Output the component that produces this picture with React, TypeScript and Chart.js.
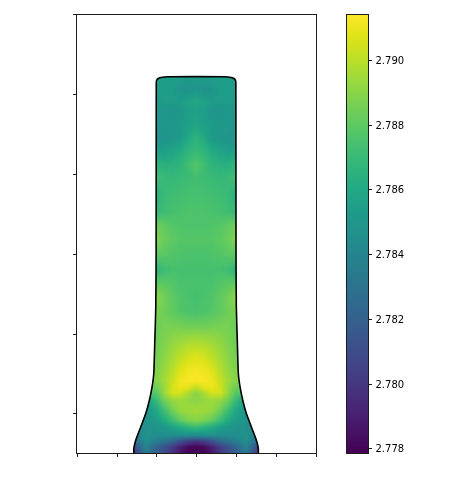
import React, { useEffect, useRef } from "react";
import { Chart, registerables } from "chart.js";

Chart.register(...registerables);

const outlineX = [-0.79, -0.79, -0.765, -0.702, -0.639, -0.594, -0.56, -0.539, -0.526, -0.514, -0.51, -0.508, -0.505, -0.488, -0.448, -0.368, 0.352, 0.432, 0.472, 0.489, 0.492, 0.494, 0.498, 0.51, 0.523, 0.544, 0.578, 0.623, 0.686, 0.749, 0.774, 0.774];
const outlineY = [-0.5, -0.431, -0.327, -0.16, 0.0075, 0.174, 0.341, 0.512, 0.925, 1.343, 2.0025, 4.145, 4.175, 4.2, 4.215, 4.225, 4.225, 4.215, 4.2, 4.175, 4.145, 2.0025, 1.343, 0.925, 0.512, 0.341, 0.174, 0.0075, -0.16, -0.327, -0.431, -0.5];

const fieldX = [-0.788, -0.638, -0.508, -0.408, -0.308, -0.208, -0.108, -0.008, 0.092, 0.192, 0.292, 0.392, 0.492, 0.622, 0.772];
const fieldY = [4.222, 4.059, 3.909, 3.808, 3.62, 3.458, 3.282, 3.119, 2.956, 2.743, 2.529, 2.355, 2.179, 1.992, 1.803, 1.615, 1.465, 1.276, 1.114, 0.926, 0.738, 0.55, 0.412, 0.337, 0.262, 0.174, 0.049, -0.076, -0.177, -0.265, -0.34, -0.414, -0.489];
const fieldValues = [
  [2.7854, 2.7854, 2.7854, 2.7854, 2.7854, 2.7854, 2.7853, 2.7854, 2.7853, 2.7854, 2.7854, 2.7854, 2.7854, 2.7854, 2.7854],
  [2.7853, 2.7853, 2.7853, 2.7854, 2.7854, 2.7849, 2.7847, 2.7851, 2.7847, 2.7849, 2.7854, 2.7854, 2.7853, 2.7853, 2.7853],
  [2.7852, 2.7852, 2.7852, 2.7854, 2.7853, 2.7853, 2.7857, 2.786, 2.7857, 2.7853, 2.7853, 2.7854, 2.7852, 2.7852, 2.7852],
  [2.7851, 2.7851, 2.7851, 2.785, 2.7849, 2.785, 2.7854, 2.7856, 2.7854, 2.785, 2.7849, 2.785, 2.7851, 2.7851, 2.7851],
  [2.7849, 2.7849, 2.7849, 2.7851, 2.7851, 2.7852, 2.7855, 2.7858, 2.7855, 2.7852, 2.7851, 2.7851, 2.7849, 2.7849, 2.7849],
  [2.7849, 2.7849, 2.7849, 2.7849, 2.785, 2.7852, 2.7861, 2.7866, 2.7861, 2.7852, 2.785, 2.7849, 2.7849, 2.7849, 2.7849],
  [2.7855, 2.7855, 2.7855, 2.7855, 2.7858, 2.7862, 2.7867, 2.787, 2.7867, 2.7862, 2.7858, 2.7855, 2.7855, 2.7855, 2.7855],
  [2.7867, 2.7867, 2.7867, 2.7865, 2.7865, 2.7867, 2.7872, 2.7878, 2.7872, 2.7867, 2.7865, 2.7865, 2.7867, 2.7867, 2.7867],
  [2.7872, 2.7872, 2.7872, 2.787, 2.7869, 2.787, 2.7871, 2.7873, 2.7871, 2.787, 2.7869, 2.787, 2.7872, 2.7872, 2.7872],
  [2.7864, 2.7864, 2.7864, 2.787, 2.7872, 2.7873, 2.7874, 2.7874, 2.7874, 2.7873, 2.7872, 2.787, 2.7864, 2.7864, 2.7864],
  [2.7869, 2.7869, 2.7869, 2.7872, 2.7874, 2.7875, 2.7876, 2.7876, 2.7876, 2.7875, 2.7874, 2.7872, 2.7869, 2.7869, 2.7869],
  [2.7885, 2.7885, 2.7885, 2.7881, 2.7878, 2.7877, 2.7876, 2.7876, 2.7876, 2.7877, 2.7878, 2.7881, 2.7885, 2.7885, 2.7885],
  [2.7889, 2.7889, 2.7889, 2.7883, 2.788, 2.7878, 2.7878, 2.7878, 2.7878, 2.7878, 2.788, 2.7883, 2.7889, 2.7889, 2.7889],
  [2.788, 2.788, 2.788, 2.7879, 2.7877, 2.7876, 2.7875, 2.7875, 2.7875, 2.7876, 2.7877, 2.7879, 2.788, 2.788, 2.788],
  [2.7866, 2.7866, 2.7866, 2.7872, 2.7874, 2.7874, 2.7874, 2.7874, 2.7874, 2.7874, 2.7874, 2.7872, 2.7866, 2.7866, 2.7866],
  [2.7882, 2.7882, 2.7882, 2.788, 2.7878, 2.7875, 2.7875, 2.7875, 2.7875, 2.7875, 2.7878, 2.788, 2.7882, 2.7882, 2.7882],
  [2.7891, 2.7891, 2.7891, 2.7885, 2.788, 2.7877, 2.7875, 2.7874, 2.7875, 2.7877, 2.788, 2.7885, 2.7891, 2.7891, 2.7891],
  [2.7887, 2.7887, 2.7887, 2.7884, 2.7881, 2.7878, 2.7876, 2.7875, 2.7876, 2.7878, 2.7881, 2.7884, 2.7887, 2.7887, 2.7887],
  [2.7884, 2.7884, 2.7884, 2.7886, 2.7886, 2.7885, 2.7884, 2.7884, 2.7884, 2.7885, 2.7886, 2.7886, 2.7884, 2.7884, 2.7884],
  [2.7884, 2.7884, 2.7884, 2.7888, 2.7891, 2.7893, 2.7895, 2.7896, 2.7895, 2.7893, 2.7891, 2.7888, 2.7884, 2.7884, 2.7884],
  [2.7886, 2.7886, 2.7886, 2.789, 2.7895, 2.79, 2.7904, 2.7906, 2.7904, 2.79, 2.7895, 2.789, 2.7886, 2.7886, 2.7886],
  [2.7888, 2.7888, 2.7888, 2.7893, 2.7899, 2.7907, 2.7911, 2.7912, 2.7911, 2.7907, 2.7899, 2.7893, 2.7888, 2.7888, 2.7888],
  [2.7889, 2.7889, 2.7889, 2.7895, 2.7903, 2.7911, 2.7913, 2.7913, 2.7913, 2.7911, 2.7903, 2.7895, 2.7889, 2.7889, 2.7889],
  [2.7884, 2.7884, 2.7884, 2.7893, 2.7905, 2.7911, 2.7909, 2.7902, 2.7909, 2.7911, 2.7905, 2.7893, 2.7884, 2.7884, 2.7884],
  [2.7878, 2.7878, 2.7878, 2.7893, 2.7905, 2.7905, 2.7897, 2.789, 2.7897, 2.7905, 2.7905, 2.7893, 2.7878, 2.7878, 2.7878],
  [2.7855, 2.7855, 2.787, 2.7885, 2.7893, 2.7894, 2.7892, 2.789, 2.7892, 2.7894, 2.7893, 2.7885, 2.787, 2.7855, 2.7855],
  [2.7845, 2.7848, 2.786, 2.7873, 2.7885, 2.7893, 2.7894, 2.7895, 2.7894, 2.7893, 2.7885, 2.7873, 2.786, 2.7848, 2.7845],
  [2.7845, 2.7847, 2.7854, 2.7862, 2.7872, 2.7882, 2.7888, 2.789, 2.7888, 2.7882, 2.7872, 2.7862, 2.7854, 2.7847, 2.7845],
  [2.7843, 2.7846, 2.7847, 2.785, 2.7854, 2.786, 2.7865, 2.7868, 2.7865, 2.786, 2.7854, 2.785, 2.7847, 2.7846, 2.7843],
  [2.7835, 2.7848, 2.7845, 2.7845, 2.7846, 2.7847, 2.7847, 2.7846, 2.7847, 2.7847, 2.7846, 2.7845, 2.7845, 2.7848, 2.7835],
  [2.7825, 2.7846, 2.7838, 2.7832, 2.7824, 2.7814, 2.7806, 2.7801, 2.7806, 2.7814, 2.7824, 2.7832, 2.7838, 2.7846, 2.7825],
  [2.7808, 2.784, 2.7822, 2.7813, 2.7803, 2.7791, 2.7782, 2.778, 2.7782, 2.7791, 2.7803, 2.7813, 2.7822, 2.784, 2.7808],
  [2.78, 2.7833, 2.7819, 2.781, 2.7799, 2.7787, 2.778, 2.7779, 2.778, 2.7787, 2.7799, 2.781, 2.7819, 2.7833, 2.78],
];

const viridisStops = ["#440154", "#471365", "#482475", "#463480", "#414487", "#3b528b", "#355f8d", "#2f6c8e", "#2a788e", "#25848e", "#21918c", "#1e9c89", "#22a884", "#2fb47c", "#44bf70", "#5ec962", "#7ad151", "#9bd93c", "#bddf26", "#dfe318", "#fde725"];

const colorMin = 2.777858;
const colorMax = 2.791418;
const colorTicks = [2.778, 2.78, 2.782, 2.784, 2.786, 2.788, 2.79];
const xTicks = [-1.5, -1, -0.5, 0, 0.5, 1, 1.5];
const yTicks = [0, 1, 2, 3, 4, 5];

const ink = "#1c1c1c";
const hexRgb = (h: string) => [1, 3, 5].map((i) => parseInt(h.slice(i, i + 2), 16));
const stopRgb = viridisStops.map(hexRgb);

function colorOf(v: number) {
  const t = Math.min(1, Math.max(0, (v - colorMin) / (colorMax - colorMin)));
  const pos = t * (stopRgb.length - 1);
  const i = Math.min(stopRgb.length - 2, Math.floor(pos));
  const f = pos - i;
  return stopRgb[i].map((c, k) => c + (stopRgb[i + 1][k] - c) * f);
}

function valueAt(x: number, y: number) {
  let c = 0;
  while (c < fieldX.length - 2 && x > fieldX[c + 1]) c++;
  let r = 0;
  while (r < fieldY.length - 2 && y < fieldY[r + 1]) r++;
  const fx = Math.min(1, Math.max(0, (x - fieldX[c]) / (fieldX[c + 1] - fieldX[c])));
  const fy = Math.min(1, Math.max(0, (fieldY[r] - y) / (fieldY[r] - fieldY[r + 1])));
  const a = fieldValues[r][c] * (1 - fx) + fieldValues[r][c + 1] * fx;
  const b = fieldValues[r + 1][c] * (1 - fx) + fieldValues[r + 1][c + 1] * fx;
  return a * (1 - fy) + b * fy;
}

const framePlugin = {
  id: "frame",
  afterDatasetsDraw(chart: any) {
    const { ctx, chartArea: a } = chart;
    ctx.save();
    ctx.strokeStyle = ink;
    ctx.lineWidth = 1;
    ctx.strokeRect(a.left, a.top, a.right - a.left, a.bottom - a.top);
    ctx.restore();
  },
};

const fieldPlugin = {
  id: "field",
  beforeDatasetsDraw(chart: any) {
    const { ctx, chartArea: a, scales } = chart;
    const w = Math.ceil(a.right - a.left);
    const h = Math.ceil(a.bottom - a.top);
    const off = document.createElement("canvas");
    off.width = w;
    off.height = h;
    const octx = off.getContext("2d")!;
    const img = octx.createImageData(w, h);
    for (let j = 0; j < h; j++) {
      const y = scales.y.getValueForPixel(a.top + j + 0.5);
      for (let i = 0; i < w; i++) {
        const x = scales.x.getValueForPixel(a.left + i + 0.5);
        const c = colorOf(valueAt(x, y));
        const p = (j * w + i) * 4;
        img.data[p] = c[0];
        img.data[p + 1] = c[1];
        img.data[p + 2] = c[2];
        img.data[p + 3] = 255;
      }
    }
    octx.putImageData(img, 0, 0);
    const pts = chart.getDatasetMeta(0).data;
    ctx.save();
    ctx.beginPath();
    pts.forEach((p: any, i: number) => (i ? ctx.lineTo(p.x, p.y) : ctx.moveTo(p.x, p.y)));
    ctx.closePath();
    ctx.clip();
    ctx.drawImage(off, a.left, a.top);
    ctx.restore();
  },
};

const tickGrid = { drawOnChartArea: false, drawTicks: true, tickLength: 3.5, tickColor: ink, tickWidth: 1 };

export default function App() {
  const mainRef = useRef<HTMLCanvasElement>(null);
  const barRef = useRef<HTMLCanvasElement>(null);

  useEffect(() => {
    const main = new Chart(mainRef.current!, {
      type: "scatter",
      data: {
        datasets: [
          {
            data: outlineX.map((x, i) => ({ x, y: outlineY[i] })),
            showLine: true,
            borderColor: "#000",
            borderWidth: 1.6,
            pointRadius: 0,
            tension: 0.2,
            fill: false,
          },
        ],
      },
      options: {
        responsive: false,
        animation: false,
        layout: { padding: { left: 76.5, top: 14.5, right: 133.5, bottom: 26.5 } },
        plugins: { legend: { display: false }, tooltip: { enabled: false } },
        scales: {
          x: {
            type: "linear",
            min: -1.51,
            max: 1.505,
            afterBuildTicks: (s: any) => { s.ticks = xTicks.map((value) => ({ value })); },
            afterFit: (s: any) => { s.height = 0; },
            ticks: { display: false },
            grid: tickGrid,
            border: { display: false },
          },
          y: {
            type: "linear",
            min: -0.4962,
            max: 5.005,
            afterBuildTicks: (s: any) => { s.ticks = yTicks.map((value) => ({ value })); },
            afterFit: (s: any) => { s.width = 0; },
            ticks: { display: false },
            grid: tickGrid,
            border: { display: false },
          },
        },
      },
      plugins: [fieldPlugin, framePlugin],
    } as any);

    const bar = new Chart(barRef.current!, {
      type: "bar",
      data: {
        labels: ["colorbar"],
        datasets: [
          {
            data: [[colorMin, colorMax]],
            categoryPercentage: 1,
            barPercentage: 1,
            backgroundColor: (c: any) => {
              const a = c.chart.chartArea;
              if (!a) return viridisStops[9];
              const g = c.chart.ctx.createLinearGradient(0, a.bottom, 0, a.top);
              viridisStops.forEach((s, i) => g.addColorStop(i / (viridisStops.length - 1), s));
              return g;
            },
          },
        ],
      },
      options: {
        responsive: false,
        animation: false,
        layout: { padding: { left: 346.5, top: 14.5, right: 21.5, bottom: 26.5 } },
        plugins: { legend: { display: false }, tooltip: { enabled: false } },
        scales: {
          x: {
            display: false,
          },
          y: {
            type: "linear",
            position: "right",
            min: colorMin,
            max: colorMax,
            afterBuildTicks: (s: any) => { s.ticks = colorTicks.map((value) => ({ value })); },
            afterFit: (s: any) => { s.width = 60; },
            ticks: {
              color: "#000",
              padding: 3.5,
              labelOffset: 1,
              font: { family: "'DejaVu Sans'", size: 10 },
              callback: (v: any) => Number(v).toFixed(3),
            },
            grid: tickGrid,
            border: { display: false },
          },
        },
      },
      plugins: [framePlugin],
    } as any);

    return () => {
      main.destroy();
      bar.destroy();
    };
  }, []);

  const layer: React.CSSProperties = { position: "absolute", left: 0, top: 0 };
  return (
    <div style={{ position: "absolute", left: 0, top: 0, width: 450, height: 480, background: "#fff" }}>
      <canvas ref={mainRef} width={450} height={480} style={layer} />
      <canvas ref={barRef} width={450} height={480} style={layer} />
    </div>
  );
}
